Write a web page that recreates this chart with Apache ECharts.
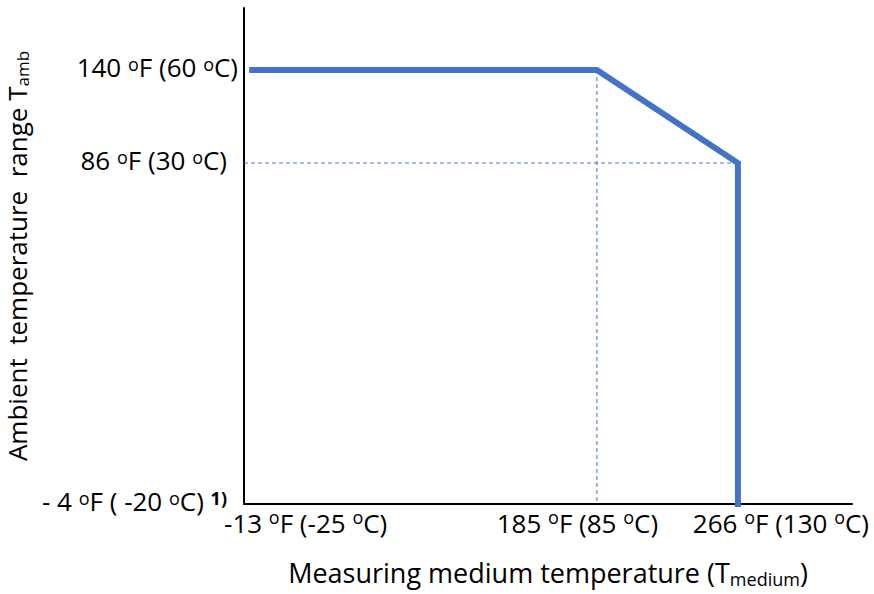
<!DOCTYPE html>
<html><head><meta charset="utf-8">
<script src="https://cdn.jsdelivr.net/npm/echarts@6/dist/echarts.min.js"></script>
<style>html,body{margin:0;padding:0;background:#fff}#c{width:874px;height:594px}</style>
</head><body><div id="c"></div>
<script>
// ---- data (°C / °F) ----
const xTickC = [-25, 85, 130];
const xTickF = [-13, 185, 266];
const yTickC = [-20, 30, 60];
const yTickF = [-4, 86, 140];
const curveMediumC = [-25, 85, 130, 130];
const curveAmbientC = [60, 60, 30, -20];
const guideVMediumC = [85, 85];
const guideVAmbientC = [60, -20];
const guideHAmbientC = [30, 30];
const guideHMediumC = [null, 130]; // starts at axis origin
// schematic (non-linear) ambient axis: level assigned to each ambient tick
const yTickLevel = [0, 110, 140];

const X_MIN = -27.6, X_MAX = 166.4, Y_MAX = 160;

function level(t) {
  for (let i = 0; i < yTickC.length - 1; i++) {
    const a = yTickC[i], b = yTickC[i + 1];
    if (t <= b || i === yTickC.length - 2) {
      return yTickLevel[i] + (t - a) * (yTickLevel[i + 1] - yTickLevel[i]) / (b - a);
    }
  }
}
const pts = (xs, ys) => xs.map((x, i) => [x === null ? X_MIN : x, level(ys[i])]);

const FONT = 'Open Sans';
const BLUE = '#4472C4';
const base = { fontFamily: FONT, fontSize: 26, color: '#000', lineHeight: 30 };
const sup = { fontFamily: FONT, fontSize: 18, color: '#000', lineHeight: 9, verticalAlign: 'top' };
const tBase = { fontFamily: FONT, fontSize: 27, color: '#000', lineHeight: 32 };
const tSub = { fontFamily: FONT, fontSize: 18, color: '#000', lineHeight: 22, verticalAlign: 'bottom' };
const yBase = { fontFamily: FONT, fontSize: 26, color: '#000', lineHeight: 28 };
const ySub = { fontFamily: FONT, fontSize: 17, color: '#000', lineHeight: 20, verticalAlign: 'bottom' };
const yb = Object.assign({}, base, { padding: [0, 0, 6, 0] });

// horizontal label shifts (left / right padding) for the three medium ticks
const xPadL = [107, 0, 86];
const xPadR = [0, 39, 0];

const xAxes = xTickC.map(function (c, i) {
  const rich = {
    t: base, s: sup,
    f: Object.assign({}, base, { padding: [0, 0, 0, xPadL[i]] }),
    e: Object.assign({}, base, { padding: [0, xPadR[i], 0, 0] })
  };
  const ax = {
    type: 'value', min: X_MIN, max: X_MAX, position: 'bottom',
    axisLine: { show: i === 0, lineStyle: { color: '#000', width: 2 } },
    axisTick: { show: false }, splitLine: { show: false },
    axisLabel: {
      customValues: [c], margin: 4, rich: rich, hideOverlap: false,
      formatter: function (v) {
        return `{f|${xTickF[i]} }{s|o}{t|F (${xTickC[i]} }{s|o}{e|C)}`;
      }
    }
  };
  if (i === 0) {
    ax.name = '{t|Measuring medium temperature (T}{sub|medium}{t|)}';
    ax.nameLocation = 'middle';
    ax.nameGap = 52;
    ax.nameTextStyle = { rich: { t: tBase, sub: tSub } };
  }
  return ax;
});

const yRich = {
  t: yb, s: sup,
  e0: yb,
  e1: Object.assign({}, base, { padding: [0, 11, 6, 0] }),
  e2: yb,
  b: { fontFamily: FONT, fontSize: 18, fontWeight: 'bold', color: '#000', lineHeight: 12, verticalAlign: 'top', padding: [0, 11, 0, 0] }
};

const chart = echarts.init(document.getElementById('c'), null, { renderer: 'svg' });
chart.setOption({
  animation: false,
  backgroundColor: '#fff',
  grid: { left: 244, right: 22, top: 8, bottom: 90, containLabel: false, outerBoundsMode: 'none' },
  xAxis: xAxes,
  yAxis: {
    type: 'value', min: 0, max: Y_MAX,
    axisLine: { show: true, onZero: false, lineStyle: { color: '#000', width: 2 } },
    axisTick: { show: false }, splitLine: { show: false },
    axisLabel: {
      customValues: yTickLevel, margin: 6, rich: yRich, hideOverlap: false,
      showMinLabel: true, showMaxLabel: true,
      formatter: function (v) {
        const i = yTickLevel.indexOf(v);
        if (i < 0) return '';
        if (i === 0) return `{t|- ${Math.abs(yTickF[i])} }{s|o}{t|F ( ${yTickC[i]} }{s|o}{t|C) }{b|1)}`;
        return `{t|${yTickF[i]} }{s|o}{t|F (${yTickC[i]} }{s|o}{e${i}|C)}`;
      }
    },
    name: '{t|Ambient  temperature  range T}{sub|amb}',
    nameLocation: 'middle', nameGap: 203, nameRotate: 90,
    nameTextStyle: { rich: { t: yBase, sub: ySub } }
  },
  series: [
    {
      type: 'line', data: pts(guideVMediumC, guideVAmbientC), symbol: 'none', clip: false,
      lineStyle: { color: BLUE, width: 1, type: [4, 3] }, z: 1
    },
    {
      type: 'line', data: pts(guideHMediumC, guideHAmbientC), symbol: 'none', clip: false,
      lineStyle: { color: BLUE, width: 1, type: [4, 3] }, z: 1
    },
    {
      type: 'line', data: pts(curveMediumC, curveAmbientC), symbol: 'none', clip: false,
      lineStyle: { color: BLUE, width: 6, cap: 'square', join: 'miter' }, z: 3
    }
  ]
});
</script></body></html>
